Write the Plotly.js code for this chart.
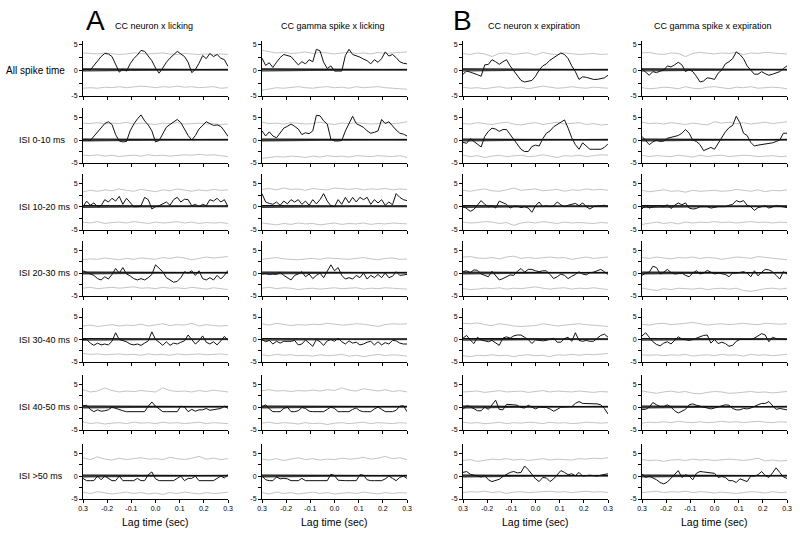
<!DOCTYPE html>
<html><head><meta charset="utf-8">
<script src="https://cdn.plot.ly/plotly-3.0.1.min.js"></script>
<style>html,body{margin:0;padding:0;background:#fff}#chart{width:800px;height:536px}</style>
</head><body><div id="chart"></div>
<script>
// ---------- DATA ----------
const lag = [-0.3,-0.285,-0.27,-0.255,-0.24,-0.225,-0.21,-0.195,-0.18,-0.165,-0.15,-0.135,-0.12,-0.105,-0.09,-0.075,-0.06,-0.045,-0.03,-0.015,0,0.015,0.03,0.045,0.06,0.075,0.09,0.105,0.12,0.135,0.15,0.165,0.18,0.195,0.21,0.225,0.24,0.255,0.27,0.285,0.3];
const lagBound = [-0.3,-0.27,-0.24,-0.21,-0.18,-0.15,-0.12,-0.09,-0.06,-0.03,0,0.03,0.06,0.09,0.12,0.15,0.18,0.21,0.24,0.27,0.3];
const lagEnds = [-0.3, 0.3];

const colTitles = ["CC neuron x licking","CC gamma spike x licking","CC neuron x expiration","CC gamma spike x expiration"];
const rowLabels = ["All spike time","ISI 0-10 ms","ISI 10-20 ms","ISI 20-30 ms","ISI 30-40 ms","ISI 40-50 ms","ISI >50 ms"];
const panelLetters = ["A","B"];
const xTickVals = [-0.3,-0.2,-0.1,0,0.1,0.2,0.3];
const xTickText = ["0.3","-0.2","-0.1","0.0","0.1","0.2","0.3"];
const yTickVals = [-5,-2.5,0,2.5,5];
const yTickText = ["-5","","0","","5"];
const xTitle = "Lag time (sec)";

// cross-correlation curves (black)
const cc_r1c1 = [0.0,0.1,0.0,0.9,1.8,2.6,3.2,3.1,2.6,1.2,-0.4,0.2,-0.2,1.2,2.2,2.9,3.8,3.6,2.8,1.8,0.4,-0.6,0.4,1.5,2.3,3.0,3.6,3.1,2.6,1.5,-0.5,0.1,1.3,2.8,2.2,3.2,2.6,3.0,2.3,2.0,0.7];
const cc_r1c2 = [2.3,0.9,1.4,0.5,1.5,2.4,3.0,2.8,2.6,1.8,1.0,1.6,1.2,2.0,1.6,4.0,3.7,1.5,0.3,0.8,-0.2,-0.2,-0.2,2.8,4.0,3.0,2.8,2.5,2.1,1.8,1.2,2.0,1.5,2.2,3.5,2.7,3.0,2.4,1.6,1.3,1.2];
const cc_r1c3 = [-0.8,-0.2,-0.4,-0.6,-0.9,-1.2,1.0,1.1,2.0,1.6,1.1,1.6,2.0,0.8,-0.2,-1.2,-2.0,-2.3,-2.2,-2.0,-1.2,0.0,0.8,1.2,1.9,2.4,2.9,3.3,3.0,2.2,0.8,-0.3,-1.8,-1.3,-1.4,-1.6,-1.8,-1.8,-1.6,-1.5,-1.0];
const cc_r1c4 = [0.2,-0.5,-1.0,-0.3,-0.5,-0.2,0.0,0.8,0.6,1.0,1.5,1.0,-0.3,0.1,-0.3,-1.2,-2.3,-2.1,-1.5,-1.6,-1.8,-0.6,0.0,1.2,1.6,2.2,3.5,3.0,2.2,0.8,0.0,-0.8,-0.8,-0.3,-0.7,-1.0,-0.8,-0.5,-0.3,0.3,0.8];
const cc_r2c1 = [0.0,0.1,-0.1,0.8,1.8,2.8,3.6,4.0,3.4,1.2,-0.2,-0.4,-0.3,2.0,3.5,4.6,5.5,4.2,3.3,2.0,-0.4,-0.1,1.2,2.8,3.4,4.0,4.5,3.8,2.3,1.0,0.0,1.0,2.4,3.3,4.0,3.6,3.2,3.3,3.0,2.0,0.8];
const cc_r2c2 = [2.0,0.9,1.8,0.9,0.5,1.6,2.6,3.0,3.5,3.0,2.4,1.2,1.6,1.4,2.0,5.4,5.3,4.2,3.5,0.2,-0.2,-0.2,-0.1,2.0,3.8,5.2,3.6,3.2,2.8,2.0,1.5,1.7,2.0,4.5,3.6,4.0,3.0,2.2,1.5,1.3,0.9];
const cc_r2c3 = [-0.5,-0.7,0.3,-0.3,-1.0,-1.5,0.8,1.9,2.6,2.4,1.9,2.3,2.3,1.2,0.3,-0.8,-2.0,-2.5,-2.5,-1.4,-1.1,-1.3,0.3,1.5,2.0,2.9,3.4,4.0,4.4,2.6,0.5,-1.0,-2.0,-0.6,-1.4,-2.0,-2.0,-2.0,-2.0,-1.6,-0.8];
const cc_r2c4 = [0.8,-0.2,-1.0,-0.4,0.0,-0.3,-0.2,0.4,0.6,0.8,1.0,1.5,2.3,1.5,0.0,-0.3,-1.0,-2.3,-2.0,-1.6,-2.0,-0.8,0.5,1.8,2.7,3.2,5.2,3.8,1.5,1.0,-0.5,-1.3,-1.1,-1.0,-0.9,-0.8,-0.6,-0.3,0.0,1.5,1.5];
const cc_r3c1 = [0.0,1.2,0.3,0.8,0.0,0.2,1.5,1.0,1.8,1.2,2.2,0.5,1.8,0.8,0.0,0.0,0.2,2.0,1.5,-0.5,0.0,0.2,0.6,1.0,0.3,1.5,2.0,1.0,1.6,1.5,0.2,0.5,0.0,0.5,0.2,1.5,1.2,1.8,1.0,1.5,0.0];
const cc_r3c2 = [2.8,1.0,0.7,0.5,1.0,0.3,1.2,0.6,1.5,1.0,1.5,0.5,1.2,0.3,1.5,0.6,1.5,2.8,1.2,0.2,0.0,1.5,0.5,2.0,0.8,2.0,1.0,2.0,1.5,2.0,0.5,1.5,0.8,1.5,0.3,1.0,0.4,2.8,2.0,1.5,1.3];
const cc_r3c3 = [0.2,-0.4,-1.0,-0.6,0.4,1.3,0.5,0.0,0.2,-0.3,1.2,0.8,0.5,-0.3,0.1,0.1,-0.2,0.0,-0.3,-1.2,0.2,1.0,0.0,0.2,0.0,0.2,1.0,0.4,0.0,0.3,0.5,0.7,0.2,0.8,0.0,-0.5,0.0,0.1,0.2,0.3,0.0];
const cc_r3c4 = [-0.5,0.3,-0.3,0.0,0.2,0.2,0.0,0.4,-0.4,0.3,0.8,0.4,0.8,-0.3,-0.5,-0.4,0.0,0.0,0.0,-0.3,-0.1,0.0,0.0,0.0,0.3,0.5,1.3,1.0,1.3,0.3,0.0,-0.8,-0.2,0.0,0.2,-0.3,0.0,0.2,0.1,0.0,-0.2];
const cc_r4c1 = [0.5,0.2,-0.2,-0.5,-1.2,-1.5,-0.8,-1.3,-0.3,1.0,0.0,1.2,-0.2,-0.6,-1.2,-1.5,-1.2,-1.5,-1.0,-0.3,1.8,1.0,0.3,-1.0,-1.6,-2.0,-1.8,-1.0,0.3,0.0,0.5,-0.5,0.5,-1.2,-1.5,-1.0,-1.5,-0.5,-1.3,-0.5,0.6];
const cc_r4c2 = [-0.2,-0.1,-0.3,-0.2,-0.3,0.2,-0.5,-1.0,-1.5,-0.5,-0.2,0.3,-0.8,-0.2,-1.2,-0.5,0.0,-1.0,0.3,1.8,0.5,1.2,-0.5,-1.3,-1.0,-1.3,-0.5,-1.0,0.0,-1.3,-0.5,-1.0,-0.3,-1.0,0.0,-1.0,-0.7,0.3,-0.5,-0.4,-0.3];
const cc_r4c3 = [0.3,0.5,0.1,0.7,0.6,-0.2,-0.5,-0.8,0.4,-0.6,-1.5,-1.2,-0.8,-0.4,-0.5,0.4,1.0,0.2,0.8,0.8,0.5,0.3,0.5,0.5,-0.3,-1.2,-0.8,-0.2,-0.5,-1.2,-0.7,-0.3,0.3,-0.2,-0.4,0.1,0.2,0.5,0.8,0.3,-0.3];
const cc_r4c4 = [-0.5,0.0,0.2,1.5,1.2,-0.2,0.2,0.8,0.1,-0.2,-0.1,0.0,-0.5,-0.8,0.0,0.5,-0.2,0.0,0.6,0.2,-0.2,0.0,-0.1,-0.3,-0.8,0.0,0.0,0.1,0.3,0.0,-0.8,0.5,-0.6,0.2,0.8,0.7,0.3,-0.5,-1.3,0.3,-0.2];
const cc_r5c1 = [0.0,0.0,-0.8,-1.3,-0.8,-1.2,-1.0,-1.2,-0.4,1.5,0.0,-0.3,-0.5,-1.0,-1.2,-1.0,-1.3,-0.8,-0.3,1.7,0.0,-0.6,-1.3,-0.5,-1.3,-0.8,-1.0,-0.6,-0.3,1.0,0.0,-1.0,-0.3,0.8,-0.6,-1.0,-0.5,-1.2,-0.3,0.7,-0.2];
const cc_r5c2 = [0.0,-0.5,-0.2,-1.0,-0.4,-0.8,-0.4,-0.4,-0.4,-0.2,-1.2,-1.0,-0.1,-0.8,-1.5,0.0,-0.5,-1.3,-0.3,0.0,-0.4,0.3,-0.5,-1.0,-0.3,-0.8,-0.6,-1.2,-1.0,-0.6,-0.4,-1.2,-0.5,-1.2,-0.7,-1.0,-0.2,-0.3,-0.8,-1.0,-1.0];
const cc_r5c3 = [0.3,0.9,-0.1,-0.9,0.5,-0.1,-0.3,-0.5,-0.2,-0.8,-1.3,0.3,0.6,0.3,0.8,1.0,1.0,0.5,0.0,-0.9,-0.1,-0.2,-0.3,-0.2,0.0,0.3,-0.6,-0.6,0.2,0.5,-0.4,1.5,-0.2,-0.4,-0.2,-0.4,-0.4,0.2,0.9,1.2,0.5];
const cc_r5c4 = [0.8,1.5,0.5,-0.5,-1.1,-1.4,-0.8,-0.5,-1.0,-0.3,0.6,0.1,0.0,-0.2,0.0,0.3,0.5,0.9,1.0,-0.8,0.0,-0.9,-0.6,-0.9,-1.5,-1.3,-0.4,0.0,0.0,0.0,0.0,0.3,0.9,1.3,1.0,-0.5,0.5,0.2,0.1,0.0,0.0];
const cc_r6c1 = [0.3,0.4,-0.5,-1.0,-0.6,-0.9,-0.8,-0.6,0.0,-0.3,-0.5,-0.8,-1.0,-1.0,-1.0,-1.0,-1.0,-1.0,0.2,1.1,0.2,-0.5,-1.0,-1.0,-1.0,-1.0,-1.0,0.2,0.0,-1.0,-0.5,-0.9,-0.6,-0.6,-0.3,-0.7,-0.6,-0.5,-0.3,0.2,-0.3];
const cc_r6c2 = [0.0,0.5,-0.4,-1.0,-1.0,-1.0,-0.3,0.0,-1.0,-1.0,-0.8,-0.1,-0.3,-0.9,-1.0,-1.0,-1.0,-1.0,-0.5,0.0,-0.3,-1.0,-1.0,-1.0,-1.0,-0.5,-0.2,-0.8,-1.0,-1.0,-1.0,-0.4,0.0,-0.5,-1.0,-1.0,-1.0,-0.7,0.2,0.3,-1.0];
const cc_r6c3 = [-0.5,0.3,0.1,-0.3,-0.8,-0.8,0.0,-0.5,0.5,1.5,-0.5,-0.6,0.6,0.6,0.5,0.4,-0.1,-0.2,0.4,0.0,-0.4,0.0,0.0,-0.1,-0.4,-0.9,-0.5,0.0,0.0,0.0,0.1,0.8,1.2,0.8,0.8,0.8,0.8,0.7,0.5,-0.3,-1.5];
const cc_r6c4 = [-0.5,-0.5,0.0,1.0,0.5,0.1,0.1,0.5,0.0,-0.8,-1.3,-0.9,-0.5,0.5,0.7,0.4,0.2,-0.1,-0.3,-0.4,-0.2,0.0,0.3,0.5,0.4,-0.3,-0.6,-0.6,-0.3,-0.4,-0.2,0.2,0.5,0.8,0.8,1.2,0.4,-0.5,-0.3,-0.5,-0.6];
const cc_r7c1 = [-0.5,-1.0,-1.0,-1.0,0.0,-0.8,0.0,-0.6,-1.0,-1.0,0.0,-1.0,-1.0,-1.0,-1.0,-0.5,-1.0,-1.0,0.3,0.9,-0.6,-1.0,-1.0,-1.0,-1.0,-1.0,-0.5,0.0,-1.0,-0.5,-0.5,0.0,-1.0,-1.0,-1.0,-1.0,-1.0,-0.5,0.0,-0.4,0.3];
const cc_r7c2 = [0.0,-0.8,-1.0,-1.0,-0.2,-0.6,-0.5,-0.6,-1.0,-1.0,-1.0,-0.5,-1.0,-1.0,-1.0,-1.0,-1.0,-1.0,-1.0,0.4,0.1,-0.9,-1.0,-1.0,-1.0,-1.0,-1.0,0.3,0.2,-0.8,-1.0,-1.0,-1.0,-1.0,-0.6,0.0,-0.5,-1.0,-0.3,0.0,-0.5];
const cc_r7c3 = [0.8,1.0,0.4,0.2,0.0,-0.2,0.1,-0.8,-1.2,-1.0,-0.7,-0.1,0.4,0.8,1.0,0.7,0.8,2.2,1.4,0.4,-0.6,-1.2,-0.3,-0.4,-1.2,-0.6,0.4,1.2,0.8,0.3,0.5,0.1,0.8,0.0,0.1,0.2,0.1,0.0,0.2,0.4,0.5];
const cc_r7c4 = [0.5,-0.3,0.0,-0.4,-0.8,-1.4,-1.7,-1.3,-0.5,0.2,1.2,-0.3,0.3,0.0,-0.8,0.6,1.0,0.9,0.8,0.8,0.6,-0.3,-0.1,-0.3,-1.0,-1.0,-1.4,-0.6,-0.9,-1.2,0.0,0.0,0.3,1.0,0.1,-0.3,0.7,1.8,0.8,-0.2,-0.5];

// upper / lower confidence bounds (gray), per row: [col1, col2, col3, col4]
const upRow1 = [[3.3,3.2,3.1,3.3,3.2,3.0,3.1,3.3,3.2,3.1,3.2,3.3,3.1,3.0,3.2,3.1,3.0,3.1,3.0,3.1,3.0],[3.8,3.5,3.3,3.4,3.2,3.3,3.5,3.2,3.4,3.3,3.1,3.3,3.4,3.2,3.3,3.1,3.4,3.2,3.3,3.4,3.5],[3.2,3.0,3.3,3.1,2.6,3.2,3.3,3.0,3.2,3.3,2.9,3.4,3.1,3.0,3.3,3.2,3.0,3.1,3.2,3.0,3.1],[3.3,3.4,3.1,3.0,3.3,3.2,2.6,3.2,3.4,3.2,3.1,3.3,3.2,3.4,3.0,3.3,3.2,3.4,3.3,3.2,3.1]];
const loRow1 = [[-3.5,-3.4,-3.5,-3.3,-3.4,-3.2,-3.4,-3.3,-3.1,-3.2,-3.4,-3.2,-3.3,-3.1,-3.3,-3.2,-3.4,-3.3,-3.2,-3.5,-3.4],[-3.9,-3.6,-3.4,-3.5,-3.3,-3.2,-3.4,-3.5,-3.3,-3.2,-3.4,-3.3,-3.5,-3.2,-3.4,-3.3,-3.2,-3.4,-3.5,-3.6,-3.7],[-3.3,-3.5,-3.4,-3.6,-3.4,-3.2,-3.5,-3.4,-3.3,-3.6,-3.4,-3.1,-3.3,-3.5,-3.4,-3.2,-3.4,-3.5,-3.3,-3.4,-3.5],[-3.4,-3.6,-3.5,-3.3,-3.4,-3.6,-3.2,-3.5,-3.6,-3.3,-3.2,-3.4,-3.6,-3.3,-3.4,-3.2,-3.5,-3.4,-3.3,-3.4,-3.6]];
const upRow2 = [[3.7,3.6,3.8,3.5,3.7,3.6,3.9,3.5,3.7,3.6,3.4,3.7,3.6,3.8,3.5,3.6,3.7,3.5,3.6,3.4,3.5],[3.9,3.6,3.7,3.5,3.8,3.7,3.5,3.6,3.9,3.6,3.4,3.7,3.6,3.8,3.7,3.5,3.6,3.8,3.6,3.7,4.0],[3.6,3.5,3.8,3.6,3.4,3.7,3.9,3.5,3.3,3.6,3.8,3.4,3.6,3.9,3.5,3.7,3.8,3.4,3.6,3.3,3.4],[3.9,3.6,3.7,3.5,3.8,3.6,3.4,3.7,3.5,3.3,4.0,3.7,3.9,3.6,3.8,3.5,3.7,3.9,3.6,3.8,4.0]];
const loRow2 = [[-3.3,-3.4,-3.2,-3.5,-3.3,-3.6,-3.4,-3.3,-3.5,-3.2,-3.4,-3.3,-3.5,-3.4,-3.2,-3.3,-3.1,-3.3,-3.2,-3.4,-3.6],[-4.0,-3.8,-3.6,-3.7,-3.5,-3.6,-3.8,-3.5,-3.7,-3.4,-3.6,-3.5,-3.7,-3.4,-3.5,-3.6,-3.4,-3.5,-3.6,-3.4,-3.8],[-3.3,-3.6,-3.4,-3.8,-3.5,-3.3,-3.6,-3.4,-3.3,-3.6,-3.5,-3.2,-3.5,-3.8,-3.4,-3.5,-3.3,-3.6,-3.4,-3.2,-3.3],[-3.3,-3.6,-3.4,-3.5,-3.6,-3.3,-3.5,-3.7,-3.3,-3.6,-3.4,-3.3,-3.6,-3.5,-3.3,-3.4,-3.6,-3.5,-3.4,-3.6,-3.5]];
const upRow3 = [[3.2,3.5,3.3,3.6,3.4,3.8,3.5,3.3,3.7,3.4,3.2,3.6,3.4,3.8,3.5,3.3,3.6,3.4,3.7,3.5,3.6],[3.7,3.9,3.6,4.0,3.7,3.8,3.5,3.9,3.7,3.6,4.0,3.8,3.7,3.9,3.6,3.8,3.7,3.9,3.6,3.8,3.7],[3.5,3.3,3.6,3.8,3.4,3.3,3.6,4.0,3.5,3.6,3.8,3.4,3.5,3.7,3.3,3.6,3.5,3.8,3.6,3.7,3.5],[3.5,3.2,3.4,3.6,3.3,3.4,3.1,3.5,3.3,3.4,3.5,3.3,3.4,3.7,3.5,3.3,3.6,3.2,3.5,3.4,3.6]];
const loRow3 = [[-3.3,-3.5,-3.2,-3.6,-3.4,-3.3,-3.5,-3.2,-3.4,-3.6,-3.3,-3.5,-3.4,-3.2,-3.5,-3.3,-3.6,-3.4,-3.5,-3.4,-3.6],[-3.5,-3.7,-3.9,-3.6,-3.8,-3.5,-3.7,-3.6,-3.9,-3.7,-3.5,-3.8,-3.6,-3.7,-3.5,-3.8,-3.6,-3.7,-3.5,-3.6,-3.7],[-3.3,-3.5,-3.4,-3.2,-3.3,-3.6,-3.4,-4.0,-3.5,-3.3,-3.5,-3.2,-3.4,-3.6,-3.3,-3.5,-3.4,-3.5,-3.6,-3.4,-3.5],[-3.8,-3.5,-3.3,-3.6,-3.4,-3.7,-3.3,-3.5,-3.3,-3.4,-3.2,-3.4,-3.3,-3.5,-3.4,-3.2,-3.4,-3.3,-3.5,-3.3,-3.4]];
const upRow4 = [[2.9,3.1,3.0,3.3,3.1,2.9,3.2,3.0,3.3,3.1,3.0,3.4,3.2,3.5,3.3,2.9,3.2,3.5,3.3,3.4,3.6],[3.0,3.2,3.4,3.1,3.0,2.9,3.1,3.2,3.0,3.3,3.2,3.1,3.0,3.2,3.4,3.1,2.9,3.2,3.3,3.0,3.1],[3.5,3.6,3.3,3.2,3.4,3.1,3.5,3.7,3.2,3.4,3.2,3.3,3.5,3.3,3.4,3.0,3.3,3.5,3.2,3.3,3.5],[3.4,3.2,3.5,3.3,3.1,3.4,3.3,3.5,3.2,3.4,3.3,3.0,3.3,3.5,3.4,3.2,3.6,3.4,3.2,3.0,2.9]];
const loRow4 = [[-3.3,-3.1,-3.4,-3.2,-3.1,-3.3,-3.2,-3.0,-3.3,-3.2,-3.4,-3.1,-3.3,-3.2,-3.4,-3.1,-3.3,-3.5,-3.2,-3.4,-3.6],[-3.3,-3.1,-3.4,-3.2,-3.3,-3.6,-3.4,-3.3,-3.5,-3.3,-3.2,-3.4,-3.3,-3.2,-3.5,-3.3,-3.4,-3.2,-3.3,-3.4,-3.5],[-3.4,-3.6,-3.5,-3.3,-3.4,-3.2,-3.5,-3.3,-3.4,-3.2,-3.0,-3.3,-3.5,-3.3,-3.2,-3.5,-3.3,-3.4,-3.2,-3.4,-3.6],[-3.3,-3.5,-3.8,-3.4,-3.6,-3.3,-3.4,-3.5,-3.3,-3.6,-3.4,-3.3,-3.5,-3.3,-3.8,-4.0,-3.7,-3.4,-3.3,-3.5,-3.3]];
const upRow5 = [[3.0,3.2,2.9,3.1,3.3,3.0,3.2,3.1,3.4,3.0,3.2,3.5,3.1,3.3,3.2,3.6,3.0,3.3,3.1,3.0,3.1],[3.5,3.2,3.6,3.4,3.1,3.3,3.2,3.4,3.3,3.6,3.4,3.2,3.3,3.5,3.4,3.2,2.9,3.3,3.5,3.4,3.5],[3.6,3.5,3.7,3.3,3.1,3.5,3.3,3.0,2.9,3.0,3.1,3.5,3.3,3.0,3.2,3.4,3.5,3.3,3.2,3.0,2.9],[3.4,3.2,3.5,3.6,3.3,3.4,3.6,3.8,3.5,3.2,3.4,3.5,3.3,3.5,3.6,3.4,3.3,3.6,3.5,3.4,3.5]];
const loRow5 = [[-3.1,-3.3,-3.2,-3.4,-3.3,-3.2,-3.4,-3.3,-3.5,-3.2,-3.4,-3.3,-3.5,-3.2,-3.4,-3.3,-3.2,-3.4,-3.3,-3.2,-3.4],[-3.4,-3.6,-3.3,-3.5,-3.4,-3.6,-3.5,-3.7,-3.4,-3.6,-3.5,-3.3,-3.7,-3.5,-3.8,-3.5,-3.3,-3.6,-3.4,-3.5,-3.7],[-3.6,-3.8,-3.5,-3.6,-3.4,-3.6,-3.5,-3.8,-3.5,-3.4,-3.6,-3.5,-3.8,-3.4,-3.5,-3.3,-3.5,-3.3,-3.4,-3.2,-3.1],[-3.4,-3.5,-3.4,-3.6,-3.4,-3.5,-3.3,-3.7,-3.5,-3.4,-3.6,-3.3,-3.5,-3.4,-3.7,-3.3,-3.5,-3.4,-3.6,-3.4,-3.3]];
const upRow6 = [[3.8,3.3,3.5,4.2,3.6,3.3,3.5,3.4,3.6,3.4,3.3,4.2,3.6,3.4,3.5,3.3,3.6,3.4,3.7,3.5,3.3],[3.6,3.8,3.5,3.6,3.4,3.6,3.5,3.7,3.5,3.8,3.6,4.2,3.7,3.5,4.0,3.7,3.5,3.8,3.4,3.6,3.3],[3.3,3.4,3.5,3.2,3.4,3.6,3.3,3.4,3.5,3.2,3.4,3.6,3.3,3.5,3.4,3.3,3.5,3.4,3.2,3.4,3.3],[3.5,3.3,3.0,3.3,3.5,3.2,3.4,3.0,2.9,3.2,3.4,3.3,3.0,3.1,3.3,3.4,3.2,3.3,3.1,3.2,3.4]];
const loRow6 = [[-3.2,-3.6,-3.4,-3.7,-3.5,-3.4,-3.6,-3.3,-3.5,-3.4,-3.6,-3.3,-3.5,-3.4,-3.6,-3.5,-3.3,-3.6,-3.4,-3.5,-3.6],[-3.5,-3.3,-3.6,-3.4,-3.5,-3.7,-3.4,-3.6,-3.5,-3.8,-3.5,-3.4,-3.6,-3.5,-3.3,-3.6,-3.4,-3.5,-3.6,-3.4,-3.5],[-3.3,-3.5,-3.4,-3.6,-3.5,-3.3,-3.6,-3.4,-3.5,-3.3,-3.4,-3.6,-3.3,-3.5,-3.4,-3.6,-3.5,-3.3,-3.4,-3.5,-3.4],[-3.5,-3.3,-3.4,-3.2,-3.4,-3.1,-3.3,-3.4,-3.2,-3.4,-3.3,-3.1,-3.3,-3.2,-3.4,-3.3,-3.1,-3.3,-3.4,-3.2,-3.3]];
const upRow7 = [[4.0,3.6,4.2,3.7,3.5,3.9,3.6,3.8,4.0,3.7,3.8,3.6,4.1,3.8,3.6,3.9,4.3,3.7,3.9,3.6,3.8],[3.7,3.5,3.8,3.4,3.7,4.0,3.6,3.8,3.5,3.7,3.6,3.9,3.7,3.8,4.1,3.7,3.9,4.3,3.8,4.0,3.6],[3.4,3.6,3.2,3.5,3.7,3.6,3.8,3.5,3.7,3.4,3.6,3.8,3.5,3.7,3.6,3.5,3.8,3.7,3.9,3.8,4.0],[3.6,3.4,3.5,3.2,3.5,3.6,3.4,3.7,3.5,3.6,3.4,3.5,3.7,3.6,3.4,3.6,3.9,3.3,3.5,3.3,3.4]];
const loRow7 = [[-3.5,-3.8,-3.4,-3.6,-3.9,-3.7,-3.5,-3.8,-3.6,-3.9,-3.7,-4.0,-3.6,-3.8,-3.5,-3.7,-3.9,-3.6,-3.8,-3.7,-3.5],[-3.6,-3.9,-3.5,-3.8,-3.6,-3.9,-3.7,-3.5,-3.8,-3.6,-3.9,-3.7,-3.6,-3.8,-3.5,-3.7,-3.9,-3.6,-3.8,-3.6,-3.7],[-3.6,-3.4,-3.5,-3.3,-3.6,-3.4,-3.8,-3.5,-3.4,-3.6,-3.5,-3.4,-3.3,-3.5,-3.4,-3.6,-3.4,-3.3,-3.5,-3.4,-3.6],[-3.6,-3.5,-3.3,-3.6,-3.4,-3.5,-3.3,-3.6,-3.4,-3.5,-3.7,-3.5,-3.6,-3.8,-3.6,-3.4,-3.5,-3.7,-3.4,-3.6,-3.5]];

// near-zero reference lines (shuffled means)
const meanA = [0.2, 0.1];
const meanB = [-0.15, 0.15];
const meanC = [0.05, -0.05];

// ---------- BUILD ----------
const ccRows = [
  [cc_r1c1, cc_r1c2, cc_r1c3, cc_r1c4],
  [cc_r2c1, cc_r2c2, cc_r2c3, cc_r2c4],
  [cc_r3c1, cc_r3c2, cc_r3c3, cc_r3c4],
  [cc_r4c1, cc_r4c2, cc_r4c3, cc_r4c4],
  [cc_r5c1, cc_r5c2, cc_r5c3, cc_r5c4],
  [cc_r6c1, cc_r6c2, cc_r6c3, cc_r6c4],
  [cc_r7c1, cc_r7c2, cc_r7c3, cc_r7c4]
];
const upRows = [upRow1, upRow2, upRow3, upRow4, upRow5, upRow6, upRow7];
const loRows = [loRow1, loRow2, loRow3, loRow4, loRow5, loRow6, loRow7];

const W = 800, H = 536;
const colLeftPx = [83, 262, 463, 642];
const colWidthPx = 145;
const rowTopPx = [41, 108, 174, 241, 308, 375, 444];
const rowBotPx = [96, 163, 230, 296, 362, 430, 499];
const yRanges = [[-5, 5.6], [-5, 7], [-5, 7], [-5, 7], [-5, 7], [-5, 7], [-5, 7]];

const FONT = 'Liberation Sans, Arial, Helvetica, sans-serif';
const traces = [];
const layout = {
  width: W, height: H, autosize: false,
  margin: {l: 0, r: 0, t: 0, b: 0, pad: 0},
  paper_bgcolor: '#fff', plot_bgcolor: 'rgba(0,0,0,0)',
  showlegend: false,
  font: {family: FONT, color: '#000'},
  annotations: []
};

for (let r = 0; r < 7; r++) {
  for (let c = 0; c < 4; c++) {
    const idx = r * 4 + c + 1;
    const xa = idx === 1 ? 'x' : 'x' + idx;
    const ya = idx === 1 ? 'y' : 'y' + idx;
    const common = {xaxis: xa, yaxis: ya, mode: 'lines', hoverinfo: 'skip'};
    traces.push(Object.assign({x: lagBound, y: upRows[r][c], line: {color: '#c4c4c4', width: 1}}, common));
    traces.push(Object.assign({x: lagBound, y: loRows[r][c], line: {color: '#c4c4c4', width: 1}}, common));
    traces.push(Object.assign({x: lagEnds, y: meanC, line: {color: '#8a8a8a', width: 1.2}}, common));
    traces.push(Object.assign({x: lagEnds, y: meanB, line: {color: '#3a3a3a', width: 1.3}}, common));
    traces.push(Object.assign({x: lagEnds, y: meanA, line: {color: '#111', width: 1.3}}, common));
    traces.push(Object.assign({x: lag, y: ccRows[r][c], line: {color: '#111', width: 1}}, common));

    const xKey = idx === 1 ? 'xaxis' : 'xaxis' + idx;
    const yKey = idx === 1 ? 'yaxis' : 'yaxis' + idx;
    layout[xKey] = {
      domain: [colLeftPx[c] / W, (colLeftPx[c] + colWidthPx) / W],
      anchor: ya, range: [-0.3, 0.3], fixedrange: true,
      showgrid: false, zeroline: false,
      showline: true, linecolor: '#000', linewidth: 1,
      ticks: 'outside', ticklen: 3, tickwidth: 1, tickcolor: '#000',
      tickmode: 'array', tickvals: xTickVals, ticktext: xTickText,
      showticklabels: r === 6,
      tickfont: {size: 7, family: FONT, color: '#000'}
    };
    layout[yKey] = {
      domain: [1 - rowBotPx[r] / H, 1 - rowTopPx[r] / H],
      anchor: xa, range: yRanges[r], fixedrange: true,
      showgrid: false, zeroline: false,
      showline: true, linecolor: '#000', linewidth: 1,
      ticks: 'outside', ticklen: 3, tickwidth: 1, tickcolor: '#000',
      tickmode: 'array', tickvals: yTickVals, ticktext: yTickText,
      tickfont: {size: 7, family: FONT, color: '#000'}
    };
  }
}

function ann(text, xpx, ypx, size, xanchor) {
  layout.annotations.push({
    text: text, xref: 'paper', yref: 'paper',
    x: xpx / W, y: 1 - ypx / H,
    xanchor: xanchor || 'center', yanchor: 'middle',
    showarrow: false, font: {family: FONT, size: size, color: '#000'}
  });
}
for (let c = 0; c < 4; c++) {
  const cx = colLeftPx[c] + colWidthPx / 2;
  ann(colTitles[c], cx - 2, 26, 9);
  ann(xTitle, cx, 522, 10.5);
}
for (let r = 0; r < 7; r++) {
  const midPx = rowBotPx[r] - (5 / (yRanges[r][1] - yRanges[r][0])) * (rowBotPx[r] - rowTopPx[r]);
  if (r === 0) ann(rowLabels[r], 67, midPx, 10, 'right');
  else ann(rowLabels[r], 17, midPx, 9, 'left');
}
ann(panelLetters[0], 95, 20, 28);
ann(panelLetters[1], 462, 20, 28);

Plotly.newPlot('chart', traces, layout, {staticPlot: true, displayModeBar: false});
</script>
</body></html>
